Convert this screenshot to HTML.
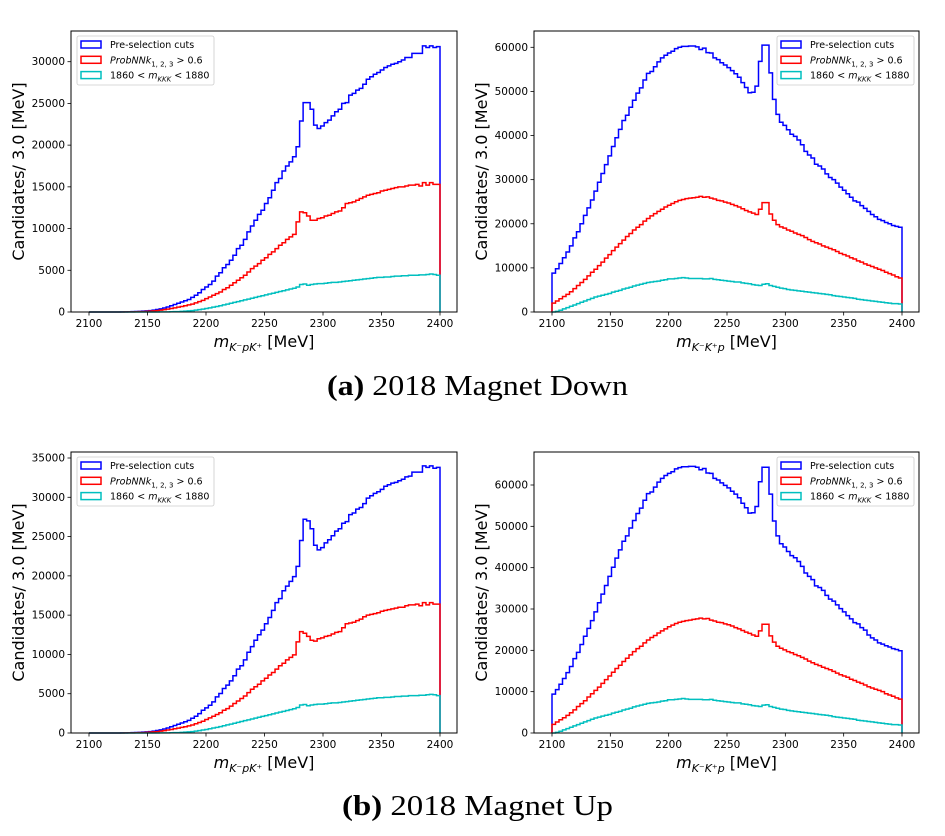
<!DOCTYPE html>
<html><head><meta charset="utf-8">
<style>
body{margin:0;background:#fff;width:945px;height:831px;overflow:hidden}
svg text{font-family:"DejaVu Sans","Liberation Sans",sans-serif}
svg text.cap{font-family:"Liberation Serif","DejaVu Serif",serif;font-size:28px}
</style></head><body>
<svg id="fig" width="945" height="831" viewBox="0 0 945 831" xmlns="http://www.w3.org/2000/svg">
<text class="cap" x="327" y="395" textLength="301" lengthAdjust="spacingAndGlyphs"><tspan font-weight="bold">(a)</tspan> 2018 Magnet Down</text>
<text class="cap" x="342" y="815" textLength="271" lengthAdjust="spacingAndGlyphs"><tspan font-weight="bold">(b)</tspan> 2018 Magnet Up</text>
</svg>
<script>
const binEdges0 = 2100, binWidth = 3, nBins = 100;
const xTicks = [2100,2150,2200,2250,2300,2350,2400];
const colors = ["#0000ff","#ff0000","#00bfbf"];

const tlBlue = [0,0,0,0,0,0,0,0,0,10,20,30,40,60,80,100,130,
170,220,300,380,480,600,750,900,1050,1200,
1350,1500,1750,2000,2300,2700,3000,3300,3700,4300,
4700,5300,5700,6200,6800,7600,8000,8700,9600,10300,
11000,11700,12200,13000,13700,14600,15500,16000,16900,17500,
18000,18600,19800,22900,25100,25100,24300,22400,22000,22300,
22700,23000,23500,24000,24300,25000,25100,26000,26200,26600,
26800,27300,27900,28200,28500,28700,29000,29300,29500,29700,
29800,30000,30200,30500,30500,31000,31000,31000,31900,31700,31900,31700,31800];
const tlRed = [0,0,0,0,0,0,0,0,0,5,10,15,20,30,40,50,70,
100,130,170,220,280,350,420,500,580,660,
750,850,950,1100,1250,1400,1600,1800,2000,2200,
2400,2700,2900,3200,3500,3800,4100,4400,4800,5200,
5500,5800,6200,6500,6900,7200,7600,8000,8300,8700,
9000,9300,10800,12000,11900,11500,11000,11000,11200,11300,
11500,11600,11800,12000,12100,12500,13000,13100,13200,13400,
13600,13800,14000,14100,14200,14300,14500,14600,14700,14800,
14900,15000,15000,15100,15200,15200,15300,15100,15500,15200,15500,15300,15300];
const tlCyan = [0,0,0,0,0,0,0,0,0,0,0,0,0,0,0,0,0,
0,0,5,10,15,20,30,40,50,70,
100,130,170,220,280,350,420,500,580,660,
750,850,950,1050,1150,1250,1350,1450,1550,1650,
1750,1850,1950,2050,2150,2250,2350,2450,2550,2650,
2750,2850,3000,3300,3350,3200,3300,3350,3400,3400,
3450,3500,3550,3550,3600,3650,3700,3750,3800,3850,
3900,3950,4000,4050,4100,4150,4150,4200,4200,4250,
4300,4300,4350,4350,4400,4400,4400,4450,4450,4500,4550,4500,4400];

const trBlue = [8800,9800,11000,12300,13600,15000,16800,18200,20000,21900,
23600,25400,27400,29400,31400,33400,35400,37500,39500,41400,
43400,44600,46400,48000,49600,50800,52600,54100,54500,55600,
56700,57600,58200,58700,59100,59700,60000,60200,60200,60300,
60300,60100,59500,59800,58800,58700,57600,57200,56500,56000,
55400,54700,54000,53200,52000,50900,49700,49800,51200,56800,
60500,60500,54200,48200,44800,43000,42300,41300,40300,39800,
39000,37900,36400,35600,34900,33500,33100,32400,31300,30500,
30000,29200,28300,27600,26800,26000,25200,24900,24100,23500,
22800,22100,21600,21000,20700,20300,20000,19600,19400,19200];
const trRed = [2000,2500,3000,3500,4000,4600,5300,6000,6700,7400,
8200,9000,9700,10500,11300,12200,13000,13900,14700,15500,
16300,17100,17800,18600,19200,19800,20600,21200,21800,22300,
22800,23300,23800,24200,24600,25000,25300,25500,25700,25800,
25900,26000,26200,26000,26100,25800,25600,25300,25200,24900,
24700,24400,24100,23800,23400,23000,22700,22400,22100,23300,
24800,24800,22200,20800,19800,19300,19000,18600,18300,17900,
17600,17300,16900,16400,16000,15700,15400,15000,14700,14400,
14100,13700,13300,13000,12700,12300,12000,11600,11300,10900,
10600,10300,10000,9700,9400,9000,8700,8400,8000,7700];
const trCyan = [0,150,400,700,1000,1300,1600,1900,2200,2500,
2800,3100,3400,3600,3800,4000,4200,4500,4700,4900,
5200,5400,5600,5900,6100,6300,6500,6700,6800,6900,
7000,7200,7300,7500,7500,7600,7700,7800,7700,7600,
7600,7600,7600,7500,7500,7600,7400,7300,7200,7100,
7000,6900,6800,6800,6600,6500,6400,6200,6100,6000,
6300,6400,6000,5800,5600,5400,5300,5100,5000,4900,
4800,4700,4600,4500,4400,4300,4200,4100,4000,3900,
3700,3600,3500,3400,3300,3200,3100,2900,2800,2700,
2600,2500,2400,2300,2200,2100,2000,1900,1900,1800];

const blBlue = [0,0,0,0,0,0,0,0,0,10,20,30,45,65,85,110,140,
180,240,320,400,510,640,800,960,1120,1280,
1440,1600,1870,2140,2460,2890,3200,3530,3960,4600,
5030,5670,6100,6630,7280,8130,8560,9300,10270,11000,
11800,12500,13100,13900,14700,15600,16600,17100,18100,18700,
19300,19900,21200,24500,27200,27000,26000,23900,23300,23600,
24200,24600,25100,25700,26000,26700,26900,27800,28000,28500,
28700,29200,29900,30200,30500,30700,31000,31400,31600,31800,
31900,32100,32300,32600,32700,33200,33200,33200,34000,33800,34000,33700,33800];
const blRed = [0,0,0,0,0,0,0,0,0,5,10,15,20,30,45,55,75,
110,140,180,235,300,375,450,535,620,710,
800,910,1020,1180,1340,1500,1710,1930,2140,2350,
2570,2890,3100,3420,3750,4070,4390,4710,5140,5560,
5890,6210,6630,6960,7380,7700,8130,8560,8880,9310,
9630,9950,11600,12900,12700,12300,11800,11700,12000,12100,
12300,12400,12600,12800,12900,13400,13900,14000,14100,14300,
14500,14800,15000,15100,15200,15300,15500,15600,15700,15800,
15900,16000,16000,16200,16300,16300,16400,16200,16600,16300,16600,16400,16400];
const blCyan = [0,0,0,0,0,0,0,0,0,0,0,0,0,0,0,0,0,
0,0,5,10,15,20,30,45,55,75,
110,140,180,240,300,380,450,540,630,710,
810,920,1030,1130,1240,1350,1460,1570,1670,1780,
1890,2000,2110,2210,2320,2430,2540,2650,2750,2860,
2970,3080,3240,3560,3620,3460,3560,3620,3670,3670,
3730,3780,3830,3830,3890,3940,4000,4050,4100,4160,
4210,4270,4320,4370,4430,4480,4480,4540,4540,4590,
4640,4640,4700,4700,4750,4750,4750,4810,4810,4860,4910,4860,4750];

const brBlue = [9400,10500,11800,13200,14600,16100,18000,19500,21400,23400,
25300,27200,29300,31500,33600,35700,37900,40100,42300,44300,
46400,47700,49600,51400,53100,54400,56300,57900,58300,59500,
60700,61600,62300,62800,63200,63900,64200,64400,64400,64500,
64500,64300,63700,64000,62900,62800,61600,61200,60500,59900,
59300,58500,57800,56900,55600,54500,53200,53300,54800,60800,
64300,64300,57800,51300,47700,45800,45000,43900,42900,42400,
41500,40300,38700,37900,37100,35600,35200,34500,33300,32400,
31900,31000,30100,29300,28400,27600,26700,26400,25500,24900,
23700,23000,22500,21800,21500,21100,20800,20400,20200,19900];
const brRed = [2100,2650,3200,3700,4250,4900,5600,6400,7100,7800,
8700,9500,10300,11100,12000,12900,13800,14700,15600,16400,
17300,18100,18900,19700,20400,21000,21800,22500,23100,23600,
24200,24700,25200,25700,26100,26500,26800,27000,27200,27300,
27500,27600,27800,27600,27700,27300,27100,26800,26700,26400,
26200,25900,25500,25200,24800,24400,24100,23700,23400,24700,
26300,26300,23500,22000,21000,20500,20100,19700,19400,19000,
18700,18300,17900,17400,17000,16600,16300,15900,15600,15300,
14900,14500,14100,13800,13500,13000,12700,12300,12000,11600,
11200,10900,10600,10300,10000,9500,9200,8900,8500,8200];
const brCyan = [0,160,430,750,1070,1390,1710,2030,2350,2680,
3000,3320,3640,3850,4070,4280,4490,4820,5030,5240,
5560,5780,5990,6310,6530,6740,6960,7170,7280,7380,
7490,7700,7810,8030,8030,8130,8240,8350,8240,8130,
8130,8130,8130,8030,8030,8130,7920,7810,7700,7600,
7490,7380,7280,7280,7060,6960,6850,6630,6530,6420,
6740,6850,6420,6210,5990,5780,5670,5460,5350,5240,
5140,5030,4920,4820,4710,4600,4490,4390,4280,4170,
3960,3850,3750,3640,3530,3420,3320,3100,3000,2890,
2780,2680,2570,2460,2350,2250,2140,2030,2030,1930];

const tlYTicks = [0,5000,10000,15000,20000,25000,30000];
const trYTicks = [0,10000,20000,30000,40000,50000,60000];
const blYTicks = [0,5000,10000,15000,20000,25000,30000,35000];
const brYTicks = [0,10000,20000,30000,40000,50000,60000];

const NS = "http://www.w3.org/2000/svg";
const svg = document.getElementById('fig');
function mk(tag, attrs, parent){const e=document.createElementNS(NS,tag);for(const k in attrs)e.setAttribute(k,attrs[k]);(parent||svg).appendChild(e);return e;}

function panel(p){
  const g = mk('g',{});
  
  
  const xs = v => p.x0 + (v-2100)/300*(p.x1-p.x0);
  const ys = v => p.yb - v*p.yk;
  p.series.forEach((s,si)=>{
    let d = 'M'+xs(binEdges0)+','+ys(0);
    for(let i=0;i<nBins;i++){
      const a = binEdges0+i*binWidth, b=a+binWidth;
      d += ' L'+xs(a).toFixed(2)+','+ys(s[i]).toFixed(2)+' L'+xs(b).toFixed(2)+','+ys(s[i]).toFixed(2);
    }
    d += ' L'+xs(binEdges0+nBins*binWidth)+','+ys(0);
    const path = mk('path',{d:d,fill:'none',stroke:colors[si],'stroke-width':1.5,'stroke-linejoin':'miter'},g);
    
    
  });
  const fr = mk('rect',{x:p.bx0,y:p.by0,width:p.bx1-p.bx0,height:p.yb-p.by0,fill:'none',stroke:'#000','stroke-width':1},g);
  
  
  xTicks.forEach(t=>{
    const x=xs(t);
    mk('line',{x1:x,x2:x,y1:p.yb,y2:p.yb+3.5,stroke:'#000','stroke-width':0.8},g);
    const tx = mk('text',{x:x,y:p.yb+15,'font-size':10.5,'text-anchor':'middle',fill:'#000'},g);
    tx.textContent=t;
    
    
  });
  p.yTicks.forEach(t=>{
    const y=ys(t);
    mk('line',{x1:p.bx0-3.5,x2:p.bx0,y1:y,y2:y,stroke:'#000','stroke-width':0.8},g);
    const tx = mk('text',{x:p.bx0-6,y:y+3.5,'font-size':10.5,'text-anchor':'end',fill:'#000'},g);
    tx.textContent=t;
    
    
  });
  const yt = mk('text',{x:0,y:0,'font-size':16,'text-anchor':'middle',transform:`translate(${p.bx0-47},${(p.by0+p.yb)/2}) rotate(-90)`},g);
  yt.textContent='Candidates/ 3.0 [MeV]';
  
  
  const xt = mk('text',{x:(p.bx0+p.bx1)/2,y:p.yb+35,'font-size':16,'text-anchor':'middle'},g);
  
  
  xt.innerHTML = '<tspan font-style="italic">m</tspan><tspan font-size="11" dy="4" font-style="italic">'+p.sub+'</tspan><tspan dy="-4"> [MeV]</tspan>';
  const lg = mk('g',{},g);
  
  
  mk('rect',{x:p.lx,y:p.by0+5,width:137,height:49,rx:2,fill:'#fff','fill-opacity':0.8,stroke:'#ccc','stroke-width':0.8},lg);
  const texts = ['Pre-selection cuts',
    '<tspan font-style="italic">ProbNNk</tspan><tspan font-size="7" dy="3">1, 2, 3</tspan><tspan dy="-3"> &gt; 0.6</tspan>',
    '1860 &lt; <tspan font-style="italic">m</tspan><tspan font-size="7" dy="3" font-style="italic">KKK</tspan><tspan dy="-3"> &lt; 1880</tspan>'];
  texts.forEach((t,i)=>{
    const yy = p.by0+10+i*15.3;
    const r = mk('rect',{x:p.lx+4,y:yy,width:20,height:7,fill:'none',stroke:colors[i],'stroke-width':1.5},lg);
    
    
    const tx = mk('text',{x:p.lx+33,y:yy+7,'font-size':9.5},lg);
    tx.innerHTML=t;
    
    
  });
}

panel({name:'panel-a-left',x0:89,x1:440,bx0:71,bx1:457,by0:31,yb:312,yk:(312-61.7)/30000,series:[tlBlue,tlRed,tlCyan],yTicks:tlYTicks,sub:'K⁻pK⁺',lx:77});
panel({name:'panel-a-right',x0:552,x1:902,bx0:534,bx1:919,by0:31,yb:312,yk:(312-47.3)/60000,series:[trBlue,trRed,trCyan],yTicks:trYTicks,sub:'K⁻K⁺p',lx:777});
panel({name:'panel-b-left',x0:89,x1:440,bx0:71,bx1:457,by0:452,yb:733,yk:(733-458)/35000,series:[blBlue,blRed,blCyan],yTicks:blYTicks,sub:'K⁻pK⁺',lx:77});
panel({name:'panel-b-right',x0:552,x1:902,bx0:534,bx1:919,by0:452,yb:733,yk:(733-485)/60000,series:[brBlue,brRed,brCyan],yTicks:brYTicks,sub:'K⁻K⁺p',lx:777});
</script>
</body></html>
